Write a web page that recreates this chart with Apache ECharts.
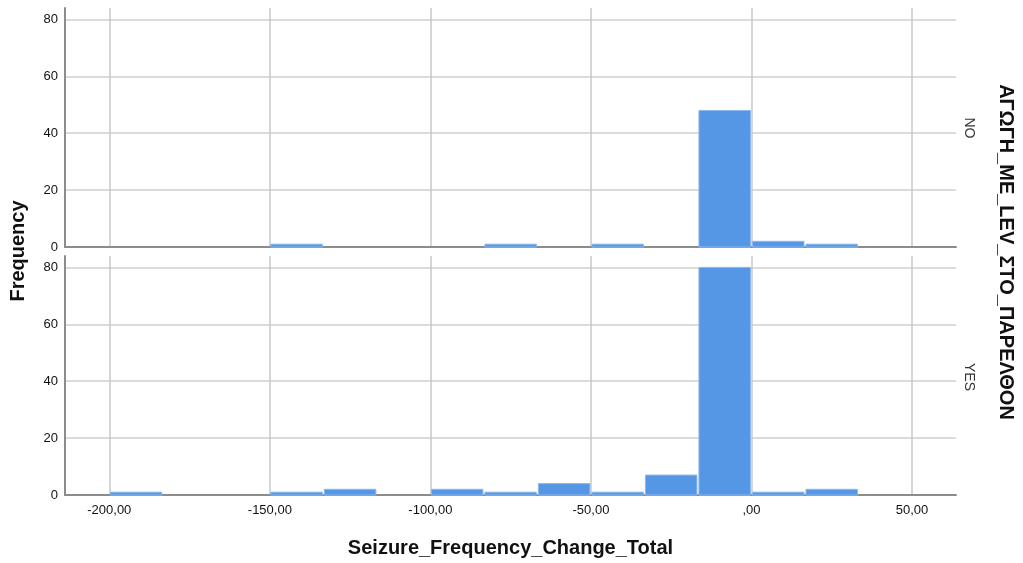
<!DOCTYPE html>
<html>
<head>
<meta charset="utf-8">
<script src="https://cdn.jsdelivr.net/npm/echarts@6/dist/echarts.min.js"></script>
<style>
  html, body { margin: 0; padding: 0; background: #ffffff; }
  #chart { width: 1023px; height: 563px; }
</style>
</head>
<body>
<div id="chart"></div>
<script>
// Histogram bin edges (bin width 50/3)
const binEdges = [-200, -183.33, -166.67, -150, -133.33, -116.67, -100, -83.33,
                  -66.67, -50, -33.33, -16.67, 0, 16.67, 33.33, 50];
// Frequencies per bin for each group
const noCounts  = [0, 0, 0, 1, 0, 0, 0, 1, 0, 1, 0, 48, 2, 1, 0];
const yesCounts = [1, 0, 0, 1, 2, 0, 2, 1, 4, 1, 7, 80, 1, 2, 0];
const panelLabels = ['NO', 'YES'];
const xTitle = 'Seizure_Frequency_Change_Total';
const yTitle = 'Frequency';
const groupTitle = 'ΑΓΩΓΗ_ΜΕ_LEV_ΣΤΟ_ΠΑΡΕΛΘΟΝ';
const xRange = [-213.8, 63.7];
const yRange = [0, 84];

const FONT = '"Liberation Sans", Arial, sans-serif';
const BAR = '#5596e5';

function binData(counts) {
  const out = [];
  counts.forEach((c, i) => {
    if (c > 0) out.push([binEdges[i], binEdges[i + 1], c]);
  });
  return out;
}

function fmtX(v) {
  if (Math.abs(v) < 1e-9) return ',00';
  return v.toFixed(2).replace('.', ',');
}

const grids = [
  { left: 65, right: 67, top: 8, height: 239 },
  { left: 65, right: 67, top: 256, height: 239 }
];

function xAxisFor(i) {
  return {
    type: 'value', gridIndex: i, min: xRange[0], max: xRange[1],
    axisLine: { show: true, onZero: false, lineStyle: { color: '#8c8c8c', width: 2 } },
    axisTick: { show: false },
    axisLabel: {
      show: i === 1, formatter: fmtX, color: '#111', fontFamily: FONT, fontSize: 13,
      margin: 9, showMinLabel: false, showMaxLabel: false
    },
    splitLine: { show: true, showMinLine: false, showMaxLine: false,
                 lineStyle: { color: '#c8c8c8', width: 1.5 } },
    name: i === 1 ? xTitle : '',
    nameLocation: 'middle', nameGap: 43,
    nameTextStyle: { fontFamily: FONT, fontSize: 20, fontWeight: 'bold', color: '#111' }
  };
}

function yAxisFor(i) {
  return {
    type: 'value', gridIndex: i, min: yRange[0], max: yRange[1], interval: 20,
    axisLine: { show: true, onZero: false, lineStyle: { color: '#8c8c8c', width: 2 } },
    axisTick: { show: false },
    axisLabel: { color: '#111', fontFamily: FONT, fontSize: 13, margin: 7, showMaxLabel: false },
    splitLine: { show: true, showMinLine: false, showMaxLine: false,
                 lineStyle: { color: '#cfcfcf', width: 1.5 } }
  };
}

function histSeries(i, counts) {
  return {
    type: 'custom', xAxisIndex: i, yAxisIndex: i,
    data: binData(counts),
    encode: { x: [0, 1], y: 2 },
    renderItem(params, api) {
      const top = api.coord([api.value(0), api.value(2)]);
      const base = api.coord([api.value(1), 0]);
      return {
        type: 'rect',
        shape: { x: top[0] + 1, y: top[1], width: base[0] - top[0] - 2, height: base[1] - top[1] },
        style: { fill: BAR, stroke: '#8db8ee', lineWidth: 1 }
      };
    }
  };
}

const chart = echarts.init(document.getElementById('chart'), null, { renderer: 'canvas' });
chart.setOption({
  animation: false,
  backgroundColor: '#ffffff',
  grid: grids,
  xAxis: [xAxisFor(0), xAxisFor(1)],
  yAxis: [yAxisFor(0), yAxisFor(1)],
  series: [histSeries(0, noCounts), histSeries(1, yesCounts)],
  graphic: [
    {
      type: 'text', x: 18, y: 251, rotation: Math.PI / 2,
      style: { text: yTitle, fontFamily: FONT, fontSize: 20, fontWeight: 'bold', fill: '#111',
               align: 'center', verticalAlign: 'middle' }
    },
    {
      type: 'text', x: 1006, y: 252, rotation: -Math.PI / 2,
      style: { text: groupTitle, fontFamily: FONT, fontSize: 20, fontWeight: 'bold', fill: '#111',
               align: 'center', verticalAlign: 'middle' }
    },
    {
      type: 'text', x: 969, y: 128, rotation: -Math.PI / 2,
      style: { text: panelLabels[0], fontFamily: FONT, fontSize: 14, fill: '#333',
               align: 'center', verticalAlign: 'middle' }
    },
    {
      type: 'text', x: 969, y: 377, rotation: -Math.PI / 2,
      style: { text: panelLabels[1], fontFamily: FONT, fontSize: 14, fill: '#333',
               align: 'center', verticalAlign: 'middle' }
    }
  ]
});
</script>
</body>
</html>
